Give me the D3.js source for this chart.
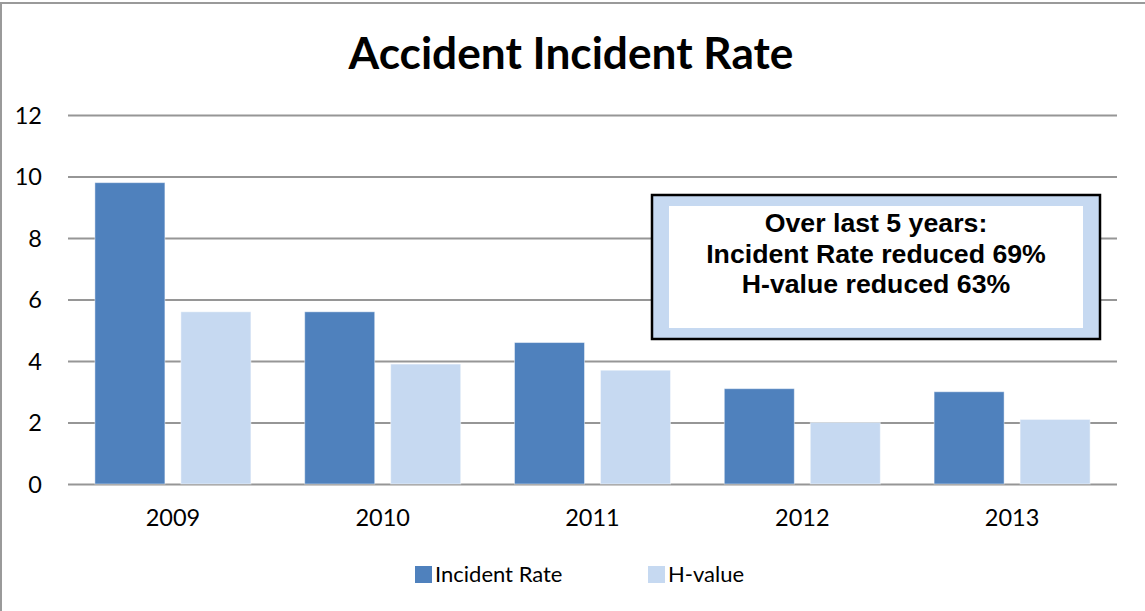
<!DOCTYPE html>
<html>
<head>
<meta charset="utf-8">
<script src="https://cdnjs.cloudflare.com/ajax/libs/d3/7.8.5/d3.min.js"></script>
<style>
	body { margin: 0; background: #fff; }
	svg { display: block; }
</style>
</head>
<body>
<div id="chart-area"></div>
<script>
// data
var years = ["2009", "2010", "2011", "2012", "2013"];
var seriesNames = ["Incident Rate", "H-value"];
var incidentRate = [9.8, 5.6, 4.6, 3.1, 3.0];
var hValue = [5.6, 3.9, 3.7, 2.0, 2.1];
var yTicks = [0, 2, 4, 6, 8, 10, 12];
var noteLines = ["Over last 5 years:", "Incident Rate reduced 69%", "H-value reduced 63%"];

var colors = {"Incident Rate": "#4F81BD", "H-value": "#C6D9F1"};

var W = 1145, H = 611;
var plot = {left: 68, right: 1117, top: 115, bottom: 484};

var svg = d3.select("#chart-area")
	.append("svg")
		.attr("width", W)
		.attr("height", H);

// outer chart border
svg.append("rect")
	.attr("x", 1).attr("y", 3)
	.attr("width", W + 10).attr("height", H + 10)
	.attr("fill", "#fff")
	.attr("stroke", "#9a9a9a")
	.attr("stroke-width", 2);

// title
var title = svg.append("text")
	.attr("x", 571)
	.attr("y", 69)
	.attr("text-anchor", "middle")
	.attr("font-family", "Lato, 'Open Sans', sans-serif")
	.attr("font-weight", "bold")
	.attr("font-size", "40px")
	.attr("fill", "#000")
	.text("Accident Incident Rate");
// fit the title to the width seen in the picture
var tw = title.node().getComputedTextLength();
title.attr("font-size", (40 * 445 / tw) + "px");

// scales
var yScale = d3.scaleLinear()
	.domain([0, 12])
	.range([plot.bottom, plot.top]);

var x0 = d3.scaleBand()
	.domain(years)
	.range([plot.left, plot.right]);

var groupW = 156;
var x1 = d3.scaleBand()
	.domain(seriesNames)
	.range([(x0.bandwidth() - groupW) / 2, (x0.bandwidth() + groupW) / 2])
	.paddingInner(0.186);

// y axis with gridlines
var yAxisCall = d3.axisLeft(yScale)
	.tickValues(yTicks)
	.tickSize(-(plot.right - plot.left))
	.tickPadding(26)
	.tickFormat(function(d){ return d; });

var yAxis = svg.append("g")
	.attr("transform", "translate(" + plot.left + ",0)")
	.call(yAxisCall);
yAxis.select(".domain").remove();
yAxis.selectAll(".tick line")
	.attr("stroke", "#969696")
	.attr("stroke-width", 2);
yAxis.selectAll(".tick text")
	.attr("font-family", "Lato, sans-serif")
	.attr("font-size", "23.5px")
	.attr("fill", "#000")
	.attr("dy", "0.36em");

// bars
var rows = years.map(function(y, i){
	return {year: y, values: [
		{name: seriesNames[0], value: incidentRate[i]},
		{name: seriesNames[1], value: hValue[i]}
	]};
});

var groups = svg.selectAll("g.year")
	.data(rows)
	.enter()
	.append("g")
		.attr("class", "year")
		.attr("transform", function(d){ return "translate(" + x0(d.year) + ",0)"; });

groups.selectAll("rect")
	.data(function(d){ return d.values; })
	.enter()
	.append("rect")
		.attr("x", function(d){ return x1(d.name); })
		.attr("y", function(d){ return yScale(d.value); })
		.attr("width", x1.bandwidth())
		.attr("height", function(d){ return yScale(0) - yScale(d.value); })
		.attr("fill", function(d){ return colors[d.name]; })
		.attr("stroke", "rgba(255,255,255,0.45)")
		.attr("stroke-width", 1);

// x axis labels
var xAxisCall = d3.axisBottom(x0).tickSize(0).tickPadding(25);
var xAxis = svg.append("g")
	.attr("transform", "translate(0," + plot.bottom + ")")
	.call(xAxisCall);
xAxis.select(".domain").remove();
xAxis.selectAll(".tick text")
	.attr("font-family", "Lato, sans-serif")
	.attr("font-size", "23.5px")
	.attr("fill", "#000");

// note box
var box = {x: 652, y: 195, w: 448, h: 144};
svg.append("rect")
	.attr("x", box.x).attr("y", box.y)
	.attr("width", box.w).attr("height", box.h)
	.attr("fill", "#C6D9F1")
	.attr("stroke", "#000")
	.attr("stroke-width", 2.5);
svg.append("rect")
	.attr("x", 669).attr("y", 206)
	.attr("width", 414).attr("height", 122)
	.attr("fill", "#fff");

svg.selectAll("text.note")
	.data(noteLines)
	.enter()
	.append("text")
		.attr("class", "note")
		.attr("x", box.x + box.w / 2)
		.attr("y", function(d, i){ return 232 + i * 30.5; })
		.attr("text-anchor", "middle")
		.attr("font-family", "'Liberation Sans', Arial, sans-serif")
		.attr("font-weight", "bold")
		.attr("font-size", "26.7px")
		.attr("fill", "#000")
		.text(function(d){ return d; });

// legend
var legendX = [415, 648];
var legend = svg.selectAll("g.legend")
	.data(seriesNames)
	.enter()
	.append("g")
		.attr("class", "legend")
		.attr("transform", function(d, i){ return "translate(" + legendX[i] + ",566)"; });

legend.append("rect")
	.attr("width", 17)
	.attr("height", 17)
	.attr("fill", function(d){ return colors[d]; });

legend.append("text")
	.attr("x", 20)
	.attr("y", 16)
	.attr("font-family", "Lato, sans-serif")
	.attr("font-size", "22px")
	.attr("fill", "#000")
	.text(function(d){ return d; });
</script>
</body>
</html>
